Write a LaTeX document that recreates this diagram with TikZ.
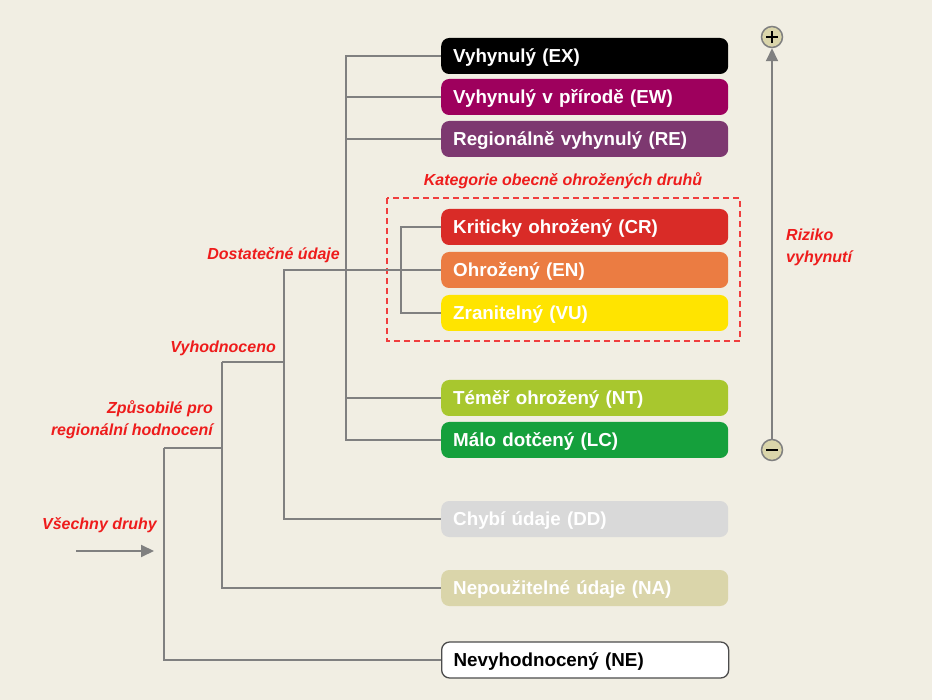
\documentclass[tikz,border=0pt]{standalone}
\usepackage{fontspec}
\setmainfont{Liberation Sans}
\usetikzlibrary{arrows.meta}
\definecolor{bg}{HTML}{F1EEE3}
\definecolor{cEX}{HTML}{000000}
\definecolor{cEW}{HTML}{9E005D}
\definecolor{cRE}{HTML}{7D3870}
\definecolor{cCR}{HTML}{D92B27}
\definecolor{cEN}{HTML}{EB7C42}
\definecolor{cVU}{HTML}{FFE400}
\definecolor{cNT}{HTML}{A8C72E}
\definecolor{cLC}{HTML}{15A03C}
\definecolor{cDD}{HTML}{D9D9D9}
\definecolor{cNA}{HTML}{DAD5AA}
\definecolor{lbl}{HTML}{EE1C1C}
\definecolor{ln}{HTML}{808080}
\tikzset{
  cat/.style={rectangle, rounded corners=8pt, minimum width=287pt, minimum height=36pt,
    inner xsep=12pt, text width=263pt, align=left, anchor=west,
    text height=13.5pt, text depth=0pt,
    font=\fontsize{18.8}{21}\selectfont\bfseries, text=white},
  conn/.style={draw=ln, line width=2pt},
  redlbl/.style={text=lbl, font=\fontsize{16}{19}\selectfont\bfseries\itshape, inner sep=0pt},
  pm/.style={circle, draw=ln, line width=1.5pt, fill=cNA, minimum size=21pt, inner sep=0pt},
  pmsign/.style={draw=black, line width=2.2pt},
}
\begin{document}
\begin{tikzpicture}[x=1pt,y=-1pt]
\fill[bg] (0,0) rectangle (932,700);
\useasboundingbox (0,0) rectangle (932,700);

% category boxes
\node[cat, fill=cEX] (ex) at (441,56) {Vyhynulý (EX)};
\node[cat, fill=cEW] (ew) at (441,97) {Vyhynulý v přírodě (EW)};
\node[cat, fill=cRE] (re) at (441,139) {Regionálně vyhynulý (RE)};
\node[cat, fill=cCR] (cr) at (441,227) {Kriticky ohrožený (CR)};
\node[cat, fill=cEN] (en) at (441,270) {Ohrožený (EN)};
\node[cat, fill=cVU] (vu) at (441,313) {Zranitelný (VU)};
\node[cat, fill=cNT] (nt) at (441,398) {Téměř ohrožený (NT)};
\node[cat, fill=cLC] (lc) at (441,440) {Málo dotčený (LC)};
\node[cat, fill=cDD] (dd) at (441,519) {Chybí údaje (DD)};
\node[cat, fill=cNA] (na) at (441,588) {Nepoužitelné údaje (NA)};
\node[cat, fill=white, draw=black!70, line width=1.3pt, text=black] (ne) at (441,660) {Nevyhodnocený (NE)};

% dashed group
\draw[lbl!85, dashed, line width=1.5pt, dash pattern=on 6pt off 4pt] (387,198) rectangle (740,341);
\node[redlbl] (kat) at (563,181) {Kategorie obecně ohrožených druhů};

% tree connectors
\coordinate (dost) at (284,270);
\coordinate (vyh) at (222,362);
\coordinate (zp) at (164,448);
\draw[conn] (ex.west) -- ++(-95,0) |- (lc.west);
\draw[conn] (ew.west) -- ++(-95,0);
\draw[conn] (re.west) -- ++(-95,0);
\draw[conn] (nt.west) -- ++(-95,0);
\draw[conn] (cr.west) -- ++(-40,0) |- (vu.west);
\draw[conn] (en.west) -- (dost) |- (dd.west);
\draw[conn] (vyh) -- ++(62,0);
\draw[conn] (vyh) |- (na.west);
\draw[conn] (zp) -- ++(58,0);
\draw[conn] (zp) |- (ne.west);

% entry arrow
\coordinate (a0) at (76,551);
\coordinate (a1) at (154,551);
\draw[conn, -{Triangle[length=13pt,width=12pt]}] (a0) -- (a1);

% red labels
\node[redlbl, anchor=east] (vsech) at (157,525) {Všechny druhy};
\node[redlbl, anchor=east, align=right] (zpl) at (213,420) {Způsobilé pro\\[3pt]regionální hodnocení};
\node[redlbl, anchor=east] (vyhl) at (276,348) {Vyhodnoceno};
\node[redlbl, anchor=east] (dostl) at (340,255) {Dostatečné údaje};

% risk axis
\node[pm] (plus) at (772,37) {};
\node[pm] (minus) at (772,450) {};
\draw[pmsign] ([xshift=-6pt]plus.center) -- ([xshift=6pt]plus.center);
\draw[pmsign] ([yshift=-6pt]plus.center) -- ([yshift=6pt]plus.center);
\draw[pmsign] ([xshift=-6pt]minus.center) -- ([xshift=6pt]minus.center);
\draw[conn, -{Triangle[length=13pt,width=12pt]}] (minus) -- (plus);
\node[redlbl, anchor=west, align=left] (riz) at (786,247) {Riziko\\[3pt]vyhynutí};
\end{tikzpicture}
\end{document}
